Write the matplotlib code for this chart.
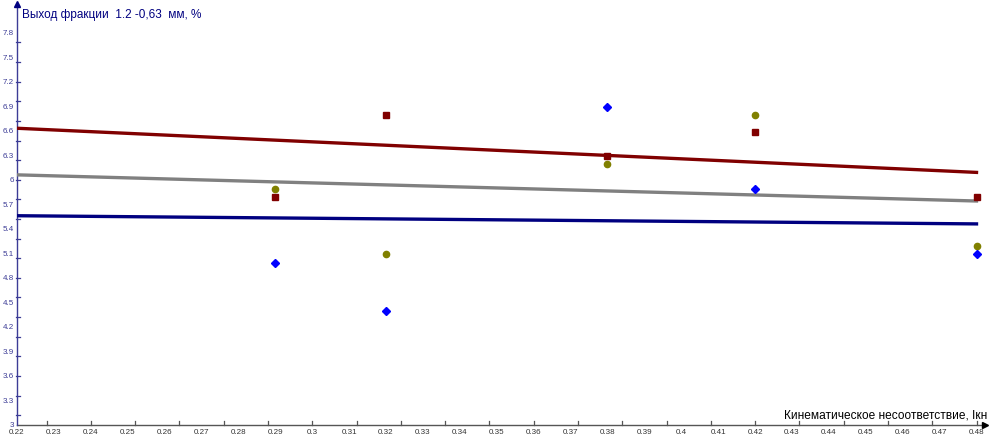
import numpy as np
import matplotlib
matplotlib.use("Agg")
import matplotlib.pyplot as plt

plt.rcParams['font.family'] = ['Liberation Sans', 'DejaVu Sans']

# Kinematic mismatch values (x) and fraction yields
x_vals = [0.29, 0.32, 0.38, 0.42, 0.48]
yield_blue = [4.98, 4.40, 6.89, 5.89, 5.09]
yield_olive = [5.89, 5.09, 6.19, 6.79, 5.19]
yield_red = [5.79, 6.79, 6.29, 6.59, 5.79]

# Trend lines across the x range
trend_x = [0.22, 0.48]
trend_red = [6.63, 6.09]
trend_gray = [6.06, 5.74]
trend_blue = [5.56, 5.46]

y_labels = [3.0, 3.3, 3.6, 3.9, 4.2, 4.5, 4.8, 5.1, 5.4, 5.7, 6.0, 6.3, 6.6, 6.9, 7.2, 7.5, 7.8]
x_labels = [round(0.22 + 0.01 * i, 2) for i in range(27)]

W, H = 989, 439
fig = plt.figure(figsize=(W / 100, H / 100), dpi=100)
ax = fig.add_axes([17 / W, 13 / H, 968 / W, 421 / H])
ax.set_xlim(0.22, 0.4823)
ax.set_ylim(3.0, 8.15)

for s in ['top', 'right', 'left', 'bottom']:
    ax.spines[s].set_visible(False)

axis_y_color = '#3c3c96'
axis_x_color = '#555555'

# axes lines with arrowheads
ax.plot([0.22, 0.4823], [3.0, 3.0], color=axis_x_color, lw=1.0, clip_on=False, zorder=1)
ax.plot([0.4823], [3.0], marker='>', color='black', ms=5, clip_on=False, zorder=1)
ax.plot([0.22, 0.22], [3.0, 8.15], color=axis_y_color, lw=1.0, clip_on=False, zorder=1)
ax.plot([0.22], [8.15], marker='^', color='#000080', ms=5, clip_on=False, zorder=1)

# tick marks (unlabelled) along both axes
x_tick_marks = [0.228 + 0.012 * k for k in range(22)]
y_tick_marks = [3.12 + 0.24 * k for k in range(20)]
for xt in x_tick_marks:
    ax.plot([xt, xt], [3.0, 3.0 + 3.5 / 81.7], color=axis_x_color, lw=0.9, clip_on=False)
for yt in y_tick_marks:
    ax.plot([0.22 - 0.5 / 3690, 0.22 + 3 / 3690], [yt, yt], color=axis_y_color, lw=0.9, clip_on=False)

ax.set_xticks([])
ax.set_yticks([])

for v in y_labels:
    lab = '3' if v == 3.0 else ('6' if v == 6.0 else f'{v:.1f}')
    ax.text(0.22 - 3 / 3690, v, lab, ha='right', va='center', fontsize=5.8,
            color=axis_y_color, clip_on=False)
for v in x_labels:
    lab = f'{v:g}'
    ax.text(v, 3.0 - 6 / 81.7, lab, ha='center', va='center', fontsize=5.8,
            color='#333333', clip_on=False)

# trend lines
ax.plot(trend_x, trend_red, color='#800000', lw=2.4, zorder=3)
ax.plot(trend_x, trend_gray, color='#808080', lw=2.4, zorder=3)
ax.plot(trend_x, trend_blue, color='#000080', lw=2.4, zorder=3)

# data points
ax.plot(x_vals, yield_red, ls='none', marker='s', ms=4.3, color='#800000', clip_on=False, zorder=4)
ax.plot(x_vals, yield_olive, ls='none', marker='o', ms=4.5, color='#808000', clip_on=False, zorder=4)
ax.plot(x_vals, yield_blue, ls='none', marker='D', ms=3.6, color='#0000ff', clip_on=False, zorder=4)

fig.text(22 / W, 1 - 15 / H, 'Выход фракции  1.2 -0,63  мм, %', ha='left', va='center',
         fontsize=8.5, color='#000080')
fig.text(987 / W, 1 - 416 / H, 'Кинематическое несоответствие, Ікн', ha='right', va='center',
         fontsize=8.6, color='#000000')

fig.savefig('out.png', dpi=100)
